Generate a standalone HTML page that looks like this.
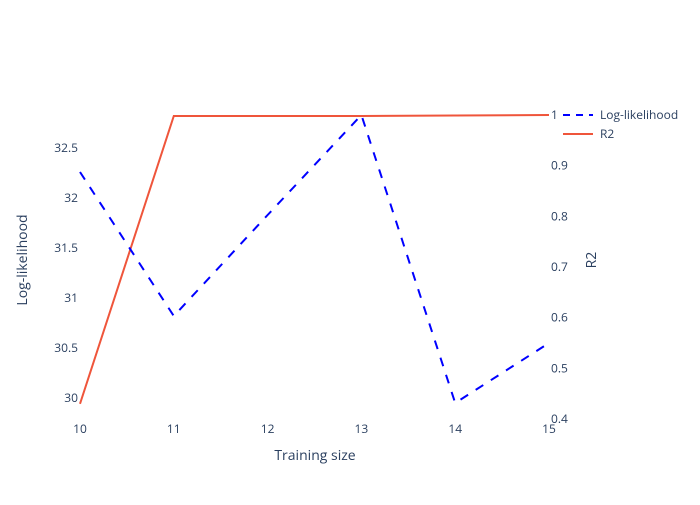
<!DOCTYPE html>
<html><head><meta charset="utf-8"><style>
body{margin:0;background:#fff}
text{font-family:"Open Sans","Liberation Sans",sans-serif;fill:#2a3f5f}
</style></head><body>
<svg id="chart" width="700" height="500" xmlns="http://www.w3.org/2000/svg"></svg>
<script>
const xCats=[10,11,12,13,14,15];
const logLik=[32.26,30.82,31.83,32.83,29.95,30.55];
const r2=[0.43,0.998,0.998,0.998,0.999,1.0];
const xTicks=[10,11,12,13,14,15];
const yLeftTicks=[30,30.5,31,31.5,32,32.5];
const yLeftLabels=["30","30.5","31","31.5","32","32.5"];
const yRightTicks=[0.4,0.5,0.6,0.7,0.8,0.9,1];
const yRightLabels=["0.4","0.5","0.6","0.7","0.8","0.9","1"];
const svg=document.getElementById('chart');
const NS='http://www.w3.org/2000/svg';
const L=80,R=549,T=100,B=420;
const xs=v=>L+(v-10)/5*(R-L);
const yl=v=>398-(v-30)*100;
const yr=v=>419-(v-0.4)*506.7;
function mk(tag,attrs,txt){const e=document.createElementNS(NS,tag);for(const k in attrs)e.setAttribute(k,attrs[k]);if(txt!==undefined)e.textContent=txt;svg.appendChild(e);return e;}
xTicks.forEach(t=>{const e=mk('text',{x:xs(t),y:433,'text-anchor':'middle','font-size':12},String(t));

});
yLeftTicks.forEach((t,i)=>{const e=mk('text',{x:78,y:yl(t)+4,'text-anchor':'end','font-size':12},yLeftLabels[i]);

});
yRightTicks.forEach((t,i)=>{const e=mk('text',{x:551,y:yr(t)+4,'text-anchor':'start','font-size':12},yRightLabels[i]);

});
let p1=mk('polyline',{points:xCats.map((x,i)=>xs(x)+','+yr(r2[i])).join(' '),fill:'none',stroke:'#EF553B','stroke-width':2});


let p2=mk('polyline',{points:xCats.map((x,i)=>xs(x)+','+yl(logLik[i])).join(' '),fill:'none',stroke:'#0000ff','stroke-width':2,'stroke-dasharray':'9,9'});


let t1=mk('text',{x:315,y:460,'text-anchor':'middle','font-size':14},'Training size');


let t2=mk('text',{x:0,y:0,'text-anchor':'middle','font-size':14,transform:'translate(27,260) rotate(-90)'},'Log-likelihood');


let t3=mk('text',{x:0,y:0,'text-anchor':'middle','font-size':14,transform:'translate(596,260) rotate(-90)'},'R2');


let l1=mk('line',{x1:563,y1:115,x2:593,y2:115,stroke:'#0000ff','stroke-width':2,'stroke-dasharray':'7,6'});


let lt1=mk('text',{x:600,y:119,'font-size':12},'Log-likelihood');


let l2=mk('line',{x1:563,y1:134,x2:593,y2:134,stroke:'#EF553B','stroke-width':2});


let lt2=mk('text',{x:600,y:138,'font-size':12},'R2');


</script>
</body></html>
